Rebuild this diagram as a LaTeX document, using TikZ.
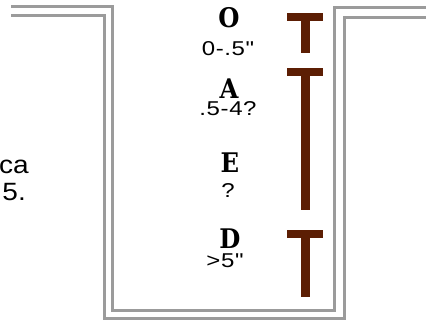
\documentclass[tikz,border=0pt]{standalone}
\usepackage{fontspec}
\setmainfont{Liberation Sans}
\newfontfamily\slabfont[FakeStretch=0.9]{DejaVu Serif}
\newfontfamily\valfont[FakeStretch=1.2,LetterSpace=3]{Liberation Sans}
\newfontfamily\sidefont[FakeStretch=1.12]{Liberation Sans}
\definecolor{wall}{RGB}{155,155,155}
\definecolor{root}{RGB}{92,30,4}
\tikzset{
  wallline/.style={draw=wall, line width=3pt, line join=miter},
  horizon/.style={font=\slabfont\bfseries\fontsize{27}{27}\selectfont, inner sep=0pt, anchor=center, text depth=0pt},
  depth/.style={font=\valfont\fontsize{20}{20}\selectfont, inner sep=0pt, anchor=center, text height=13pt, text depth=0pt},
  sidetext/.style={font=\sidefont\fontsize{25}{25}\selectfont, inner sep=0pt, anchor=base east},
  rootbar/.style={fill=root, draw=none}
}
\begin{document}
\begin{tikzpicture}[x=1pt,y=-1pt]
\useasboundingbox (0,0) rectangle (426,322);
% trench walls
\draw[wallline] (11,6) -- (112,6) -- (112,310) -- (334,310) -- (334,7) -- (430,7);
\draw[wallline] (11,15) -- (104,15) -- (104,318.5) -- (344,318.5) -- (344,17) -- (430,17);
% cut-off text at left
\node[sidetext] (t1) at (2,45) {.};
\node[sidetext] (t2) at (29,173) {ca};
\node[sidetext] (t3) at (26,200) {5.};
% horizon labels
\node[horizon] (hO) at (229,17) {O};
\node[depth] (dO) at (228,48.5) {0-.5"};
\node[horizon] (hA) at (229,88.5) {A};
\node[depth] (dA) at (228,109) {.5-4?};
\node[horizon] (hE) at (230,162.5) {E};
\node[depth] (dE) at (228,190.5) {?};
\node[horizon] (hD) at (230,238.5) {D};
\node[depth] (dD) at (225,261) {>5"};
% root markers
\fill[rootbar] (287,13) rectangle (323,21);
\fill[rootbar] (301,21) rectangle (310,53);
\fill[rootbar] (287,68) rectangle (323,76);
\fill[rootbar] (301,76) rectangle (310,210);
\fill[rootbar] (287,230) rectangle (323,238);
\fill[rootbar] (301,238) rectangle (310,297);
\end{tikzpicture}
\end{document}
